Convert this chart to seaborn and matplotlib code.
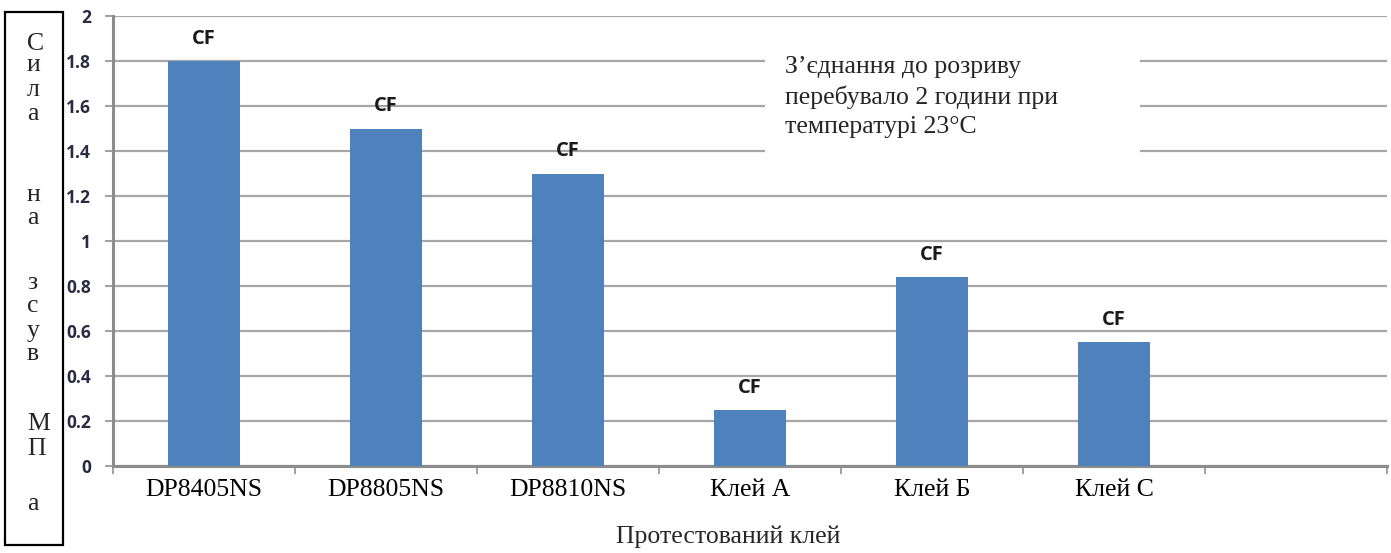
import matplotlib
matplotlib.use("Agg")
import matplotlib.pyplot as plt
import matplotlib.patches as mpatches
import seaborn as sns
import pandas as pd
import numpy as np

# ---- data ----
categories = ["DP8405NS", "DP8805NS", "DP8810NS", "Клей А", "Клей Б", "Клей С"]
values = [1.8, 1.5, 1.3, 0.25, 0.84, 0.55]
bar_labels = ["CF", "CF", "CF", "CF", "CF", "CF"]
y_ticks = [0, 0.2, 0.4, 0.6, 0.8, 1.0, 1.2, 1.4, 1.6, 1.8, 2.0]
y_tick_labels = ["0", "0.2", "0.4", "0.6", "0.8", "1", "1.2", "1.4", "1.6", "1.8", "2"]
x_title = "Протестований клей"
y_title_letters = ["С", "и", "л", "а", "н", "а", "з", "с", "у", "в", "М", "П", "а"]
note_lines = ["З\u2019єднання до розриву", "перебувало 2 години при", "температурі 23°C"]

sns.set_theme(style="white")
plt.rcParams["font.family"] = ["Liberation Serif", "DejaVu Serif"]

W, H = 1391, 553
fig = plt.figure(figsize=(W / 100, H / 100), dpi=100)

def fx(px):
    return px / W

def fy(py):
    return (H - py) / H

ax = fig.add_axes([fx(113), fy(466), fx(1387) - fx(113), fy(16) - fy(466)])

df = pd.DataFrame({"cat": categories, "val": values})
sns.barplot(data=df, x="cat", y="val", ax=ax, color="#4F81BD", saturation=1,
            width=0.4, linewidth=0, zorder=3)

n_slots = len(categories) + 1
ax.set_xlim(-0.5, n_slots - 0.5)
ax.set_ylim(0, 2)

# grid
ax.set_yticks(y_ticks)
ax.set_yticklabels(y_tick_labels, fontfamily="Open Sans", fontweight="bold",
                   fontsize=12.5, color="#2a2a40")
ax.yaxis.grid(True, color="#A6A6A6", linewidth=1.6, zorder=0)
ax.set_axisbelow(True)
ax.tick_params(axis="y", which="major", left=True, length=6, width=1.4,
               color="#A0A0A0", pad=10)

# x ticks: labels at centers, marks at boundaries
ax.set_xticks(range(len(categories)))
ax.set_xticklabels(categories, fontsize=18.5, color="black")
ax.tick_params(axis="x", which="major", length=0, pad=9)
ax.set_xticks(np.arange(-0.5, n_slots, 1.0), minor=True)
ax.tick_params(axis="x", which="minor", bottom=True, length=6, width=1.4,
               color="#A0A0A0")
ax.set_xlabel("")
ax.set_ylabel("")

for side in ["top", "right"]:
    ax.spines[side].set_visible(False)
for side in ["left", "bottom"]:
    ax.spines[side].set_color("#8C8C8C")
    ax.spines[side].set_linewidth(2.2)

# CF labels above bars
for i, (v, lab) in enumerate(zip(values, bar_labels)):
    ax.annotate(lab, xy=(i, v), xytext=(0, 16), textcoords="offset points",
                ha="center", va="center", fontfamily="Open Sans",
                fontweight="bold", fontsize=14.5, color="#1a1a1a")

# x axis title
fig.text(fx(728), fy(537), x_title, ha="center", va="center", fontsize=18.5)

# y axis title box with stacked letters
rect = mpatches.Rectangle((fx(5), fy(545)), fx(63) - fx(5), fy(12) - fy(545),
                          transform=fig.transFigure, fill=False,
                          edgecolor="black", linewidth=1.6)
fig.add_artist(rect)
letter_y = [44, 65, 90, 114, 195, 218, 283, 306, 331, 354, 424, 449, 504]
for ch, py in zip(y_title_letters, letter_y):
    fig.text(fx(27), fy(py), ch, ha="left", va="center", fontsize=18.5)

# note box
note = mpatches.Rectangle((fx(765), fy(153)), fx(1140) - fx(765), fy(35) - fy(153),
                          transform=fig.transFigure, facecolor="white",
                          edgecolor="none", zorder=5)
fig.add_artist(note)
for line, py in zip(note_lines, [67, 97, 127]):
    fig.text(fx(785), fy(py), line, ha="left", va="center", fontsize=18.5,
             zorder=6)

fig.savefig("out.png", dpi=100)
